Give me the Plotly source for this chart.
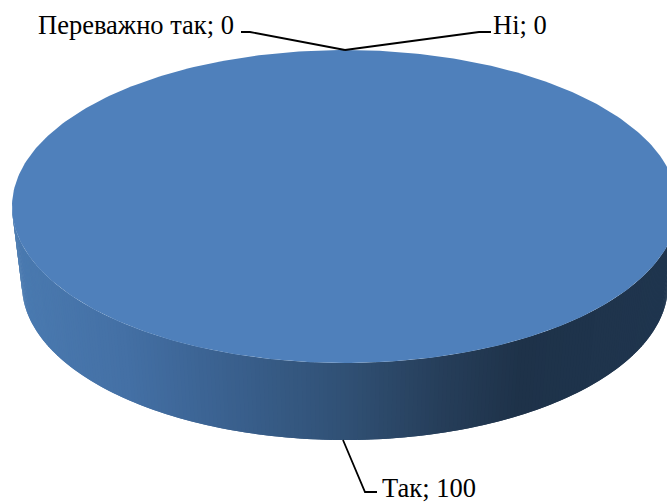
import numpy as np
import plotly.graph_objects as go

categories = ["Так", "Переважно так", "Ні"]
values = [100, 0, 0]
slice_colors = ["#4F80BB", "#C0504D", "#9BBB59"]

W, H = 667, 502
# disc geometry in pixel space
CX, CY, RX, RY = 345, 206.5, 333, 156.5
BCX, BCY, BRX, BRY = 345, 285, 323, 155
shade_x = [12, 120, 200, 345, 440, 520, 667]
shade_rgb = [(74, 122, 176), (68, 112, 165), (60, 100, 148), (48, 80, 116), (38, 62, 90), (30, 50, 73), (31, 53, 78)]

fig = go.Figure()

# side wall, shaded strip by strip from the front half of the rim
n = 240
ts = np.linspace(np.pi, 0, n + 1)  # left to right through the front (screen y down)
for i in range(n):
    t0, t1 = ts[i], ts[min(i + 2, n)]
    tt = np.linspace(t0, t1, 4)
    xtop = CX + RX * np.cos(tt)
    ytop = CY + RY * np.sin(tt)
    xbot = BCX + BRX * np.cos(tt[::-1])
    ybot = BCY + BRY * np.sin(tt[::-1])
    xm = CX + RX * np.cos(ts[i])
    rgb = [np.interp(xm, shade_x, [c[k] for c in shade_rgb]) for k in range(3)]
    col = f"rgb({rgb[0]:.0f},{rgb[1]:.0f},{rgb[2]:.0f})"
    fig.add_trace(go.Scatter(
        x=np.r_[xtop, xbot], y=np.r_[ytop, ybot],
        mode="lines", line=dict(width=0), fill="toself", fillcolor=col,
        hoverinfo="skip", showlegend=False))

# top face: one sector per category, from the data
total = sum(values)
start = -np.pi / 2
for name, v, c in zip(categories, values, slice_colors):
    if v <= 0:
        continue
    sweep = 2 * np.pi * v / total
    tt = np.linspace(start, start + sweep, 361)
    x = CX + RX * np.cos(tt)
    y = CY + RY * np.sin(tt)
    if v < total:
        x = np.r_[CX, x, CX]
        y = np.r_[CY, y, CY]
    fig.add_trace(go.Scatter(
        x=x, y=y, mode="lines", line=dict(width=0), fill="toself", fillcolor=c,
        name=name, hovertemplate=f"{name}; {v}<extra></extra>", showlegend=False))
    start += sweep

# leader lines
leaders = [
    ([241, 250, 345], [32, 32, 50]),
    ([491, 479, 345], [32, 32, 50]),
    ([343, 365, 377], [440, 492, 492]),
]
for lx, ly in leaders:
    fig.add_trace(go.Scatter(x=lx, y=ly, mode="lines",
                             line=dict(color="black", width=1.8),
                             hoverinfo="skip", showlegend=False))

label_pos = {"Переважно так": (35.5, 25), "Так": (380, 488), "Ні": (491, 25)}
annotations = [
    dict(x=label_pos[name][0], y=label_pos[name][1], xref="x", yref="y",
         text=f"{name}; {v}", showarrow=False,
         xanchor="left", yanchor="middle",
         font=dict(family="Liberation Serif", size=26.5, color="black"))
    for name, v in zip(categories, values)
]

fig.update_layout(
    width=W, height=H, margin=dict(l=0, r=0, t=0, b=0),
    paper_bgcolor="white", plot_bgcolor="white",
    xaxis=dict(range=[0, W], visible=False, fixedrange=True),
    yaxis=dict(range=[H, 0], visible=False, fixedrange=True),
    annotations=annotations, showlegend=False,
)
fig.write_html("out.html", post_script="document.body.style.margin='0';",
               config={"displayModeBar": False})
